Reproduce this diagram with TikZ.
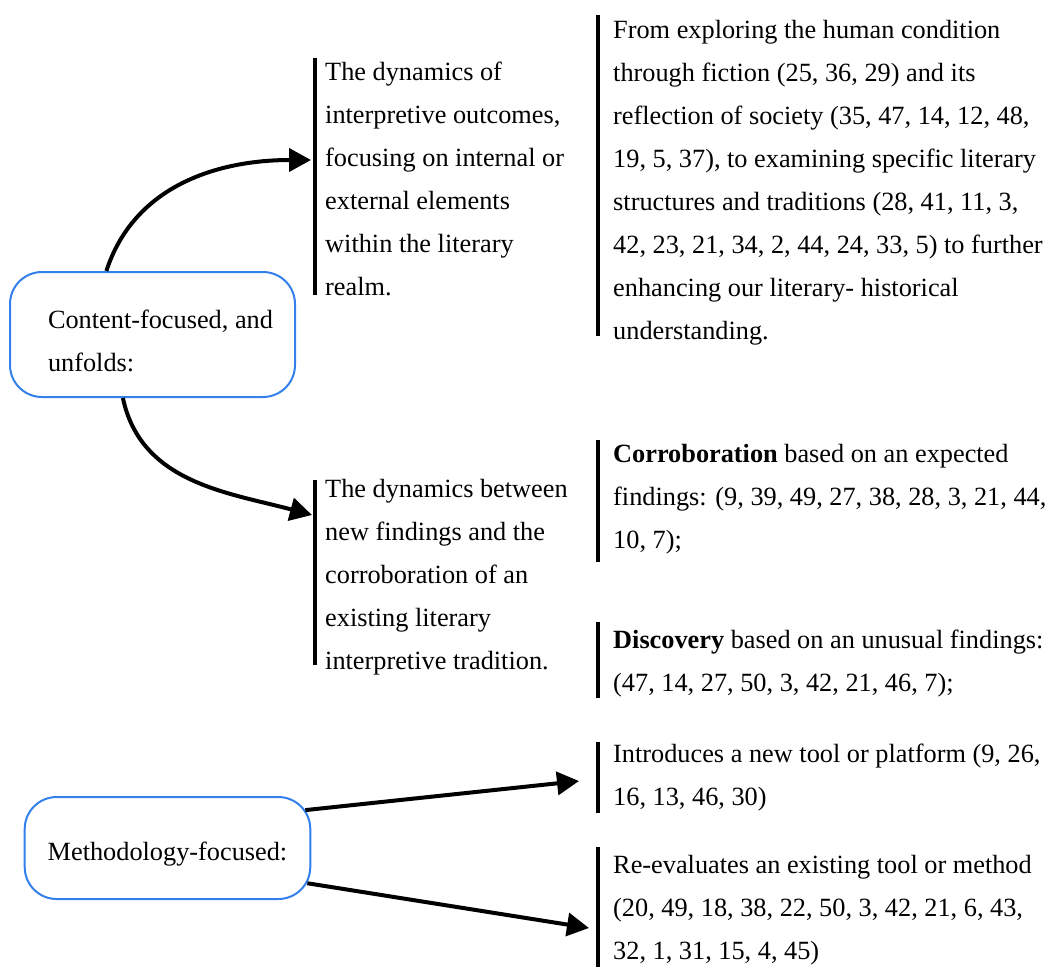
\documentclass[tikz,border=0pt]{standalone}
\usepackage{fontspec}
\setmainfont{Liberation Serif}
\usetikzlibrary{arrows.meta}
\definecolor{boxblue}{RGB}{51,128,236}

\begin{document}
\begin{tikzpicture}[x=1pt,y=1pt,
	txt/.style={anchor=base west, align=left, inner sep=0pt, font=\fontsize{26.3}{43}\selectfont},
	topic/.style={draw=boxblue, line width=2pt, rounded corners=32pt, align=left, font=\fontsize{26.3}{43}\selectfont},
	bar/.style={line width=4pt},
	arr/.style={line width=4pt, -{Triangle[length=22pt,width=23pt]}}]

	\useasboundingbox (0,0) rectangle (1054,-967);

	% the two topics
	\node[topic, minimum width=285pt, minimum height=125pt, inner xsep=22pt, text height=75pt] (content) at (152.5,-334.5)
		{\hspace*{16pt}Content-focused, and\\\hspace*{16pt}unfolds:};
	\node[topic, minimum width=285pt, minimum height=102pt, inner xsep=23pt, text height=30pt] (meth) at (167.5,-848)
		{Methodology-focused:};

	% text blocks (placed at the baseline of their last line)
	\node[txt] (outcomes) at (325,-295) {The dynamics of\\interpretive outcomes,\\focusing on internal or\\external elements\\within the literary\\realm.};
	\node[txt] (fiction) at (613,-339) {From exploring the human condition\\through fiction (25, 36, 29) and its\\reflection of society (35, 47, 14, 12, 48,\\19, 5, 37), to examining specific literary\\structures and traditions (28, 41, 11, 3,\\42, 23, 21, 34, 2, 44, 24, 33, 5) to further\\enhancing our literary- historical\\understanding.};
	\node[txt] (findings) at (325,-669) {The dynamics between\\new findings and the\\corroboration of an\\existing literary\\interpretive tradition.};
	\node[txt] (corrob) at (613,-548) {\textbf{Corroboration} based on an expected\\findings: (9, 39, 49, 27, 38, 28, 3, 21, 44,\\10, 7);};
	\node[txt] (discov) at (613,-691) {\textbf{Discovery} based on an unusual findings:\\(47, 14, 27, 50, 3, 42, 21, 46, 7);};
	\node[txt] (tool) at (613,-805) {Introduces a new tool or platform (9, 26,\\16, 13, 46, 30)};
	\node[txt] (reeval) at (613,-959) {Re-evaluates an existing tool or method\\(20, 49, 18, 38, 22, 50, 3, 42, 21, 6, 43,\\32, 1, 31, 15, 4, 45)};

	% bars
	\draw[bar] (315,-58) -- (315,-295);
	\draw[bar] (598,-15) -- (598,-336);
	\draw[bar] (315,-480) -- (315,-665);
	\draw[bar] (598,-440) -- (598,-562);
	\draw[bar] (598,-622) -- (598,-698);
	\draw[bar] (598,-742) -- (598,-813);
	\draw[bar] (598,-847) -- (598,-967);

	% arrows
	\coordinate (p1) at (311,-160);
	\coordinate (p2) at (312,-515);
	\coordinate (p3) at (579,-781);
	\coordinate (p4) at (589,-928);
	\draw[arr] (content.126) to[out=72,in=180] (p1);
	\draw[arr] (content.245) to[out=-78,in=165] (p2);
	\draw[arr, shorten <=-6pt] (meth.15) -- (p3);
	\draw[arr, shorten <=-4pt] (meth.-14) -- (p4);
\end{tikzpicture}
\end{document}
